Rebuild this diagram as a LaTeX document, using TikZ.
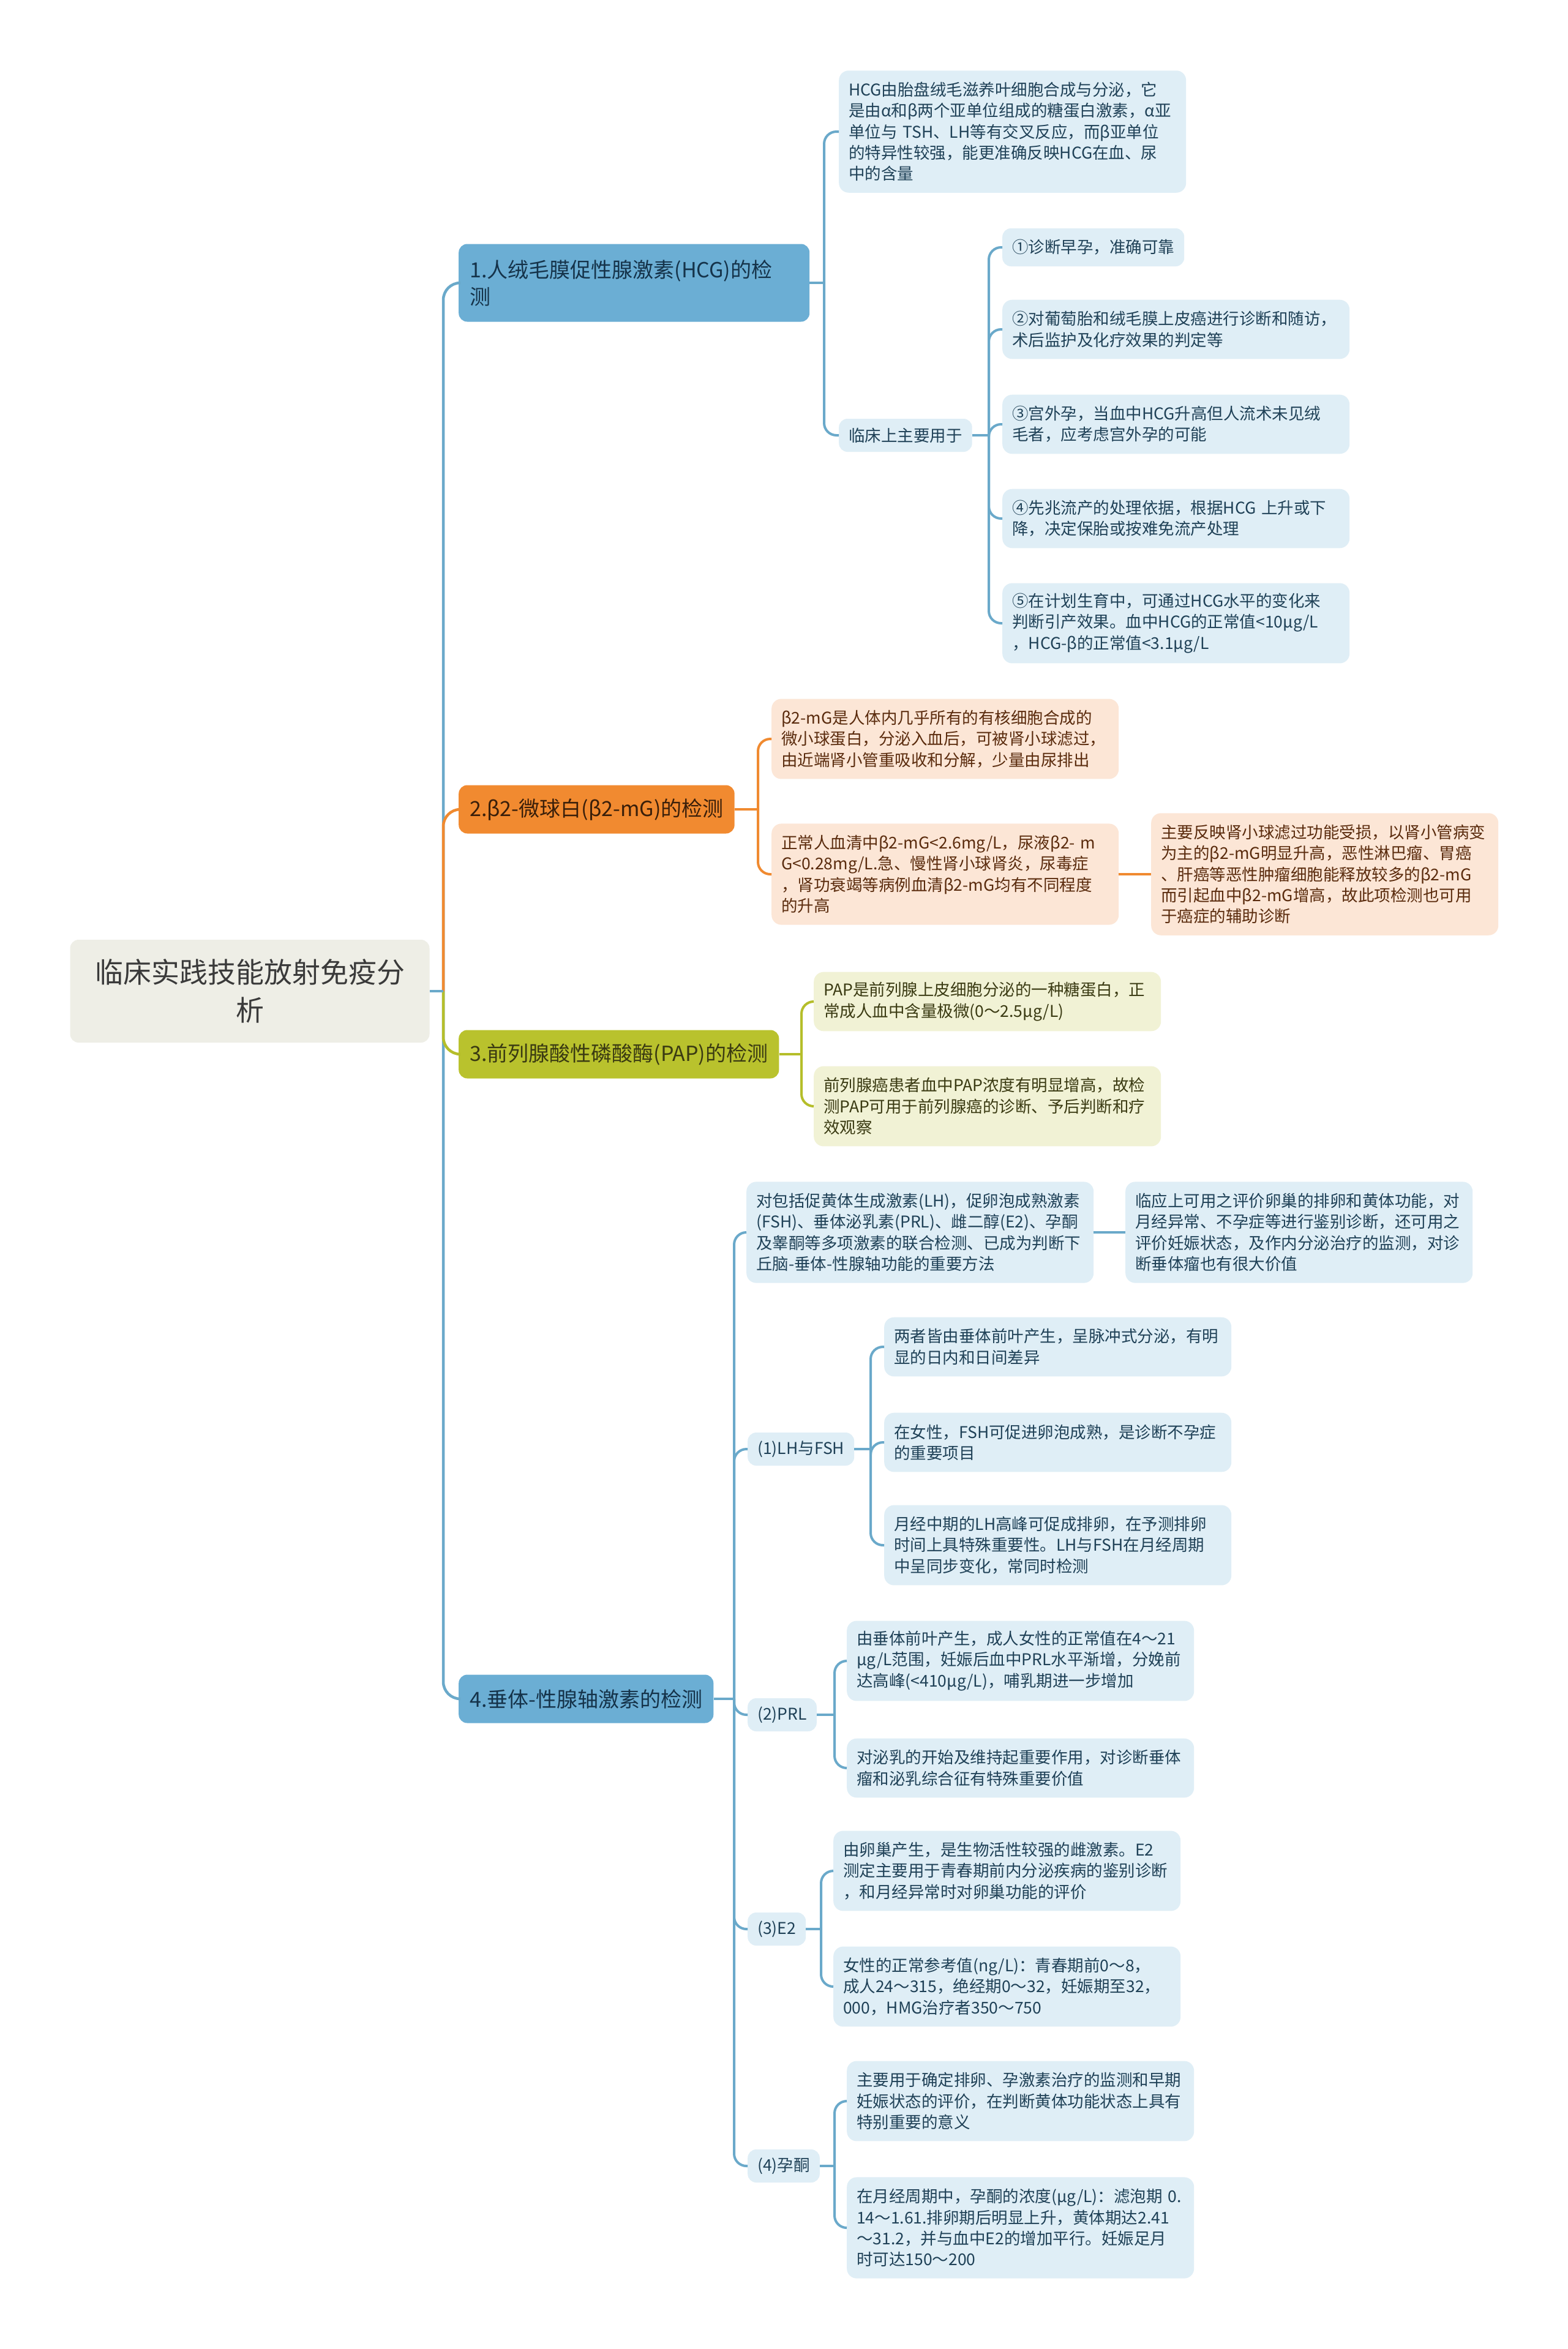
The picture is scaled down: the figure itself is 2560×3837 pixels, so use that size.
\documentclass[tikz,border=0pt]{standalone}
\usepackage{fontspec}
\setmainfont{Noto Sans CJK SC}
\usepackage{xcolor}
\definecolor{rootfill}{HTML}{EEEEE6}
\definecolor{roottext}{HTML}{3A3A3A}
\definecolor{bluemain}{HTML}{6BAED4}
\definecolor{blueline}{HTML}{6AA9CA}
\definecolor{bluesoft}{HTML}{DFEEF6}
\definecolor{bluetext}{HTML}{1F4157}
\definecolor{bluedark}{HTML}{15334A}
\definecolor{orangemain}{HTML}{F18A30}
\definecolor{orangeline}{HTML}{F08A30}
\definecolor{orangesoft}{HTML}{FCE6D6}
\definecolor{orangetext}{HTML}{5A2B0D}
\definecolor{orangedark}{HTML}{3A1F0A}
\definecolor{olivemain}{HTML}{B9C22D}
\definecolor{oliveline}{HTML}{B5BE2A}
\definecolor{olivesoft}{HTML}{F1F2D5}
\definecolor{olivetext}{HTML}{3A3A12}

\begin{document}
\begin{tikzpicture}[x=1pt,y=-1pt,
root/.style={fill=rootfill,text=roottext,rounded corners=14pt,align=center,
  minimum width=587pt,minimum height=168pt,font=\fontsize{46}{62}\selectfont},
topic/.style={anchor=west,rounded corners=14pt,align=left,inner xsep=18pt,
  minimum height=79pt,font=\fontsize{34}{44}\selectfont},
leaf/.style={anchor=west,rounded corners=16pt,align=left,inner xsep=16pt,
  text width=535pt,minimum height={#1*34.3pt+28pt},
  font=\fontsize{26.5}{34.3}\selectfont},
tag/.style={anchor=west,rounded corners=14pt,inner xsep=16pt,
  minimum height=54pt,font=\fontsize{26.5}{34.3}\selectfont},
blue leaf/.style={fill=bluesoft,text=bluetext},
orange leaf/.style={fill=orangesoft,text=orangetext},
olive leaf/.style={fill=olivesoft,text=olivetext},
link/.style={line width=4pt,rounded corners=20pt},
trunk/.style={line width=4.5pt,rounded corners=28pt}]
\useasboundingbox (0,0) rectangle (2560,3837);
\fill[white] (0,0) rectangle (2560,3837);

% junctions
\coordinate (jRoot) at (724,0);
\coordinate (jHcg) at (1346,0);
\coordinate (jUse) at (1615,0);
\coordinate (jMg) at (1238,0);
\coordinate (jPap) at (1309,0);
\coordinate (jAxis) at (1199,0);
\coordinate (jLh) at (1422,0);
\coordinate (jPrl) at (1363,0);
\coordinate (jEt) at (1341,0);
\coordinate (jPg) at (1363,0);

\node[root] (root) at (408,1619) {临床实践技能放射免疫分\\析};

\node[topic,fill=bluemain,text=bluedark,text width=537pt,minimum height=127pt] (hcg) at (749,462) {1.人绒毛膜促性腺激素(HCG)的检\\测};
\node[topic,fill=orangemain,text=orangedark] (mg) at (749,1322) {2.β2-微球白(β2-mG)的检测};
\node[topic,fill=olivemain,text=olivetext] (pap) at (749,1722) {3.前列腺酸性磷酸酶(PAP)的检测};
\node[topic,fill=bluemain,text=bluedark] (axis) at (749,2775) {4.垂体-性腺轴激素的检测};

% HCG
\node[leaf=5,blue leaf] (hcgInfo) at (1370,215) {HCG由胎盘绒毛滋养叶细胞合成与分泌，它\\是由α和β两个亚单位组成的糖蛋白激素，α亚\\单位与 TSH、LH等有交叉反应，而β亚单位\\的特异性较强，能更准确反映HCG在血、尿\\中的含量};
\node[tag,blue leaf] (hcgUse) at (1370,711) {临床上主要用于};
\node[tag,blue leaf,minimum height=62pt] (use1) at (1637,404) {①诊断早孕，准确可靠};
\node[leaf=2,blue leaf] (use2) at (1637,538) {②对葡萄胎和绒毛膜上皮癌进行诊断和随访，\\术后监护及化疗效果的判定等};
\node[leaf=2,blue leaf] (use3) at (1637,693) {③宫外孕，当血中HCG升高但人流术未见绒\\毛者，应考虑宫外孕的可能};
\node[leaf=2,blue leaf] (use4) at (1637,847) {④先兆流产的处理依据，根据HCG 上升或下\\降，决定保胎或按难免流产处理};
\node[leaf=3,blue leaf] (use5) at (1637,1018) {⑤在计划生育中，可通过HCG水平的变化来\\判断引产效果。血中HCG的正常值<10μg/L\\，HCG-β的正常值<3.1μg/L};

% beta2-mG
\node[leaf=3,orange leaf] (mgInfo) at (1260,1207) {β2-mG是人体内几乎所有的有核细胞合成的\\微小球蛋白，分泌入血后，可被肾小球滤过，\\由近端肾小管重吸收和分解，少量由尿排出};
\node[leaf=4,orange leaf] (mgNorm) at (1260,1428) {正常人血清中β2-mG<2.6mg/L，尿液β2- m\\G<0.28mg/L.急、慢性肾小球肾炎，尿毒症\\，肾功衰竭等病例血清β2-mG均有不同程度\\的升高};
\node[leaf=5,orange leaf] (mgMean) at (1880,1428) {主要反映肾小球滤过功能受损，以肾小管病变\\为主的β2-mG明显升高，恶性淋巴瘤、胃癌\\、肝癌等恶性肿瘤细胞能释放较多的β2-mG\\而引起血中β2-mG增高，故此项检测也可用\\于癌症的辅助诊断};

% PAP
\node[leaf=2,olive leaf] (papInfo) at (1329,1636) {PAP是前列腺上皮细胞分泌的一种糖蛋白，正\\常成人血中含量极微(0～2.5μg/L)};
\node[leaf=3,olive leaf] (papUse) at (1329,1807) {前列腺癌患者血中PAP浓度有明显增高，故检\\测PAP可用于前列腺癌的诊断、予后判断和疗\\效观察};

% axis
\node[leaf=4,blue leaf] (axInfo) at (1219,2013) {对包括促黄体生成激素(LH)，促卵泡成熟激素\\(FSH)、垂体泌乳素(PRL)、雌二醇(E2)、孕酮\\及睾酮等多项激素的联合检测、已成为判断下\\丘脑-垂体-性腺轴功能的重要方法};
\node[leaf=4,blue leaf] (axUse) at (1838,2013) {临应上可用之评价卵巢的排卵和黄体功能，对\\月经异常、不孕症等进行鉴别诊断，还可用之\\评价妊娠状态，及作内分泌治疗的监测，对诊\\断垂体瘤也有很大价值};
\node[tag,blue leaf] (lhTag) at (1221,2367) {(1)LH与FSH};
\node[leaf=2,blue leaf] (lh1) at (1444,2200) {两者皆由垂体前叶产生，呈脉冲式分泌，有明\\显的日内和日间差异};
\node[leaf=2,blue leaf] (lh2) at (1444,2356) {在女性，FSH可促进卵泡成熟，是诊断不孕症\\的重要项目};
\node[leaf=3,blue leaf] (lh3) at (1444,2524) {月经中期的LH高峰可促成排卵，在予测排卵\\时间上具特殊重要性。LH与FSH在月经周期\\中呈同步变化，常同时检测};
\node[tag,blue leaf] (prlTag) at (1221,2801) {(2)PRL};
\node[leaf=3,blue leaf] (prl1) at (1383,2713) {由垂体前叶产生，成人女性的正常值在4～21\\μg/L范围，妊娠后血中PRL水平渐增，分娩前\\达高峰(<410μg/L)，哺乳期进一步增加};
\node[leaf=2,blue leaf] (prl2) at (1383,2888) {对泌乳的开始及维持起重要作用，对诊断垂体\\瘤和泌乳综合征有特殊重要价值};
\node[tag,blue leaf] (etTag) at (1221,3151) {(3)E2};
\node[leaf=3,blue leaf] (et1) at (1361,3056) {由卵巢产生，是生物活性较强的雌激素。E2\\测定主要用于青春期前内分泌疾病的鉴别诊断\\，和月经异常时对卵巢功能的评价};
\node[leaf=3,blue leaf] (et2) at (1361,3245) {女性的正常参考值(ng/L)：青春期前0～8，\\成人24～315，绝经期0～32，妊娠期至32，\\000，HMG治疗者350～750};
\node[tag,blue leaf] (pgTag) at (1221,3538) {(4)孕酮};
\node[leaf=3,blue leaf] (pg1) at (1383,3432) {主要用于确定排卵、孕激素治疗的监测和早期\\妊娠状态的评价，在判断黄体功能状态上具有\\特别重要的意义};
\node[leaf=4,blue leaf] (pg2) at (1383,3639) {在月经周期中，孕酮的浓度(μg/L)：滤泡期 0.\\14～1.61.排卵期后明显上升，黄体期达2.41\\～31.2，并与血中E2的增加平行。妊娠足月\\时可达150～200};

% trunk
\draw[trunk,blueline] (jRoot |- root.east) |- (axis.west);
\draw[trunk,oliveline] (jRoot |- root.east) |- (pap.west);
\draw[trunk,blueline] (jRoot |- root.east) |- (hcg.west);
\draw[trunk,orangeline] (jRoot |- root.east) |- (mg.west);
\draw[trunk,blueline] (root.east) -- (jRoot |- root.east);

% branches
\draw[link,blueline] (hcg.east) -- (jHcg |- hcg.east);
\foreach \c in {hcgInfo,hcgUse}
  \draw[link,blueline] (jHcg |- hcg.east) |- (\c.west);
\draw[link,blueline] (hcgUse.east) -- (jUse |- hcgUse.east);
\foreach \c in {use1,use2,use3,use4,use5}
  \draw[link,blueline] (jUse |- hcgUse.east) |- (\c.west);
\draw[link,orangeline] (mg.east) -- (jMg |- mg.east);
\foreach \c in {mgInfo,mgNorm}
  \draw[link,orangeline] (jMg |- mg.east) |- (\c.west);
\draw[link,orangeline] (mgNorm.east) -- (mgMean.west);
\draw[link,oliveline] (pap.east) -- (jPap |- pap.east);
\foreach \c in {papInfo,papUse}
  \draw[link,oliveline] (jPap |- pap.east) |- (\c.west);
\draw[link,blueline] (axis.east) -- (jAxis |- axis.east);
\foreach \c in {axInfo,lhTag,prlTag,etTag,pgTag}
  \draw[link,blueline] (jAxis |- axis.east) |- (\c.west);
\draw[link,blueline] (axInfo.east) -- (axUse.west);
\draw[link,blueline] (lhTag.east) -- (jLh |- lhTag.east);
\foreach \c in {lh1,lh2,lh3}
  \draw[link,blueline] (jLh |- lhTag.east) |- (\c.west);
\draw[link,blueline] (prlTag.east) -- (jPrl |- prlTag.east);
\foreach \c in {prl1,prl2}
  \draw[link,blueline] (jPrl |- prlTag.east) |- (\c.west);
\draw[link,blueline] (etTag.east) -- (jEt |- etTag.east);
\foreach \c in {et1,et2}
  \draw[link,blueline] (jEt |- etTag.east) |- (\c.west);
\draw[link,blueline] (pgTag.east) -- (jPg |- pgTag.east);
\foreach \c in {pg1,pg2}
  \draw[link,blueline] (jPg |- pgTag.east) |- (\c.west);
\end{tikzpicture}
\end{document}
